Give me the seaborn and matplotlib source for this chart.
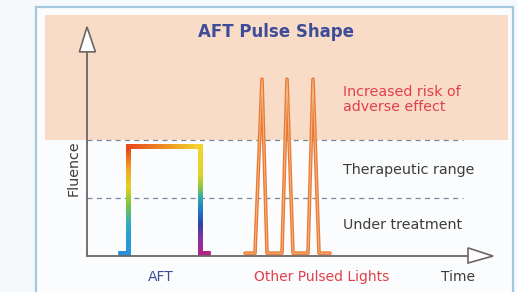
"""
AFT pulse shape schematic: AFT square pulse vs other pulsed lights.
"""

import numpy as np
import pandas as pd
import matplotlib
matplotlib.use("Agg")
import matplotlib.pyplot as plt
import seaborn as sns
from matplotlib.collections import LineCollection
from matplotlib.colors import LinearSegmentedColormap
from matplotlib.patches import Rectangle, Polygon

# ---- Data (time, fluence in schematic units) ----
AFT_T = [1.65, 2.05, 2.05, 5.65, 5.65, 6.05]
AFT_F = [0.05, 0.05, 1.90, 1.90, 0.05, 0.05]

SPIKE_T = [7.9, 8.4, 8.75, 9.0, 9.75, 10.0, 10.3, 11.05, 11.3, 11.6, 12.15]
SPIKE_F = [0.05, 0.05, 3.05, 0.05, 0.05, 3.05, 0.05, 0.05, 3.05, 0.05, 0.05]

THRESHOLDS = [1.0, 2.0]          # under treatment / therapeutic upper limit
ZONE_LABELS = ["Under treatment", "Therapeutic range", "Increased risk of\nadverse effect"]
ZONE_LABEL_F = [0.53, 1.48, 2.70]
BOTTOM_LABELS = ["AFT", "Other Pulsed Lights", "Time"]
BOTTOM_LABEL_T = [3.7, 11.75, 18.55]

# ---- Layout ----
X_LIM = (-4.35, 21.5)
Y_LIM = (-0.62, 4.414)
T_AXIS_END = 20.3
F_AXIS_END = 3.95
DASH_END = 18.8

# ---- Colours ----
PEACH = "#f9dcc8"
BORDER = "#a3c7de"
AXIS_COL = "#6e6464"
DASH_COL = "#7a8898"
ORANGE = "#e97a32"
RED_TXT = "#e2404a"
NAVY = "#3d4d97"
GRAY_TXT = "#3c3c3c"

# rainbow along the AFT stroke (fraction of path length -> colour)
AFT_STOPS = [
    (0.00, "#2a8ed8"), (0.08, "#2a9cd6"), (0.13, "#34aec0"),
    (0.19, "#7cc23e"), (0.25, "#e2d224"), (0.31, "#f2a822"),
    (0.38, "#e6461e"), (0.50, "#f08a22"), (0.62, "#f2d62c"),
    (0.72, "#e0d42e"), (0.76, "#9cc83a"), (0.80, "#2eaab0"),
    (0.85, "#2272c8"), (0.89, "#3044a8"), (0.94, "#8a30a0"),
    (1.00, "#b42282"),
]


def aft_gradient_line(ax):
    """Draw the AFT square pulse with a colour gradient along its path."""
    t = np.array(AFT_T)
    f = np.array(AFT_F)
    # length in screen-ish units (1 t = 20 px, 1 f = 58 px)
    seg_len = np.hypot(np.diff(t) * 20, np.diff(f) * 58)
    pts_t, pts_f = [], []
    for i in range(len(t) - 1):
        n = max(int(seg_len[i]), 2)
        pts_t.extend(np.linspace(t[i], t[i + 1], n, endpoint=False))
        pts_f.extend(np.linspace(f[i], f[i + 1], n, endpoint=False))
    pts_t.append(t[-1])
    pts_f.append(f[-1])
    pts = np.column_stack([pts_t, pts_f])
    segs = np.stack([pts[:-1], pts[1:]], axis=1)
    frac = np.linspace(0, 1, len(segs))
    cmap = LinearSegmentedColormap.from_list("aft", AFT_STOPS)
    lc = LineCollection(segs, colors=cmap(frac), linewidths=3.4,
                        capstyle="projecting", zorder=5)
    ax.add_collection(lc)


def main():
    sns.set_theme(style="white")
    plt.rcParams["font.family"] = ["DejaVu Sans"]

    fig = plt.figure(figsize=(5.17, 2.92), dpi=100)
    fig.patch.set_facecolor("#f6f9fb")
    ax = fig.add_axes([0, 0, 1, 1])
    ax.set_xlim(*X_LIM)
    ax.set_ylim(*Y_LIM)
    ax.set_axis_off()

    # panel border and background zones
    ax.add_patch(Rectangle((-2.55, -0.8), 23.85, 5.1, facecolor="#fbfcfd",
                           edgecolor=BORDER, lw=1.6, zorder=0))
    ax.add_patch(Rectangle((-2.1, THRESHOLDS[1]), 23.15, 2.155,
                           facecolor=PEACH, edgecolor="none", zorder=1))

    # threshold dashed lines
    for thr in THRESHOLDS:
        sns.lineplot(x=[0, DASH_END], y=[thr, thr], ax=ax, color=DASH_COL,
                     lw=0.9, dashes=False, linestyle=(0, (4, 3.5)), zorder=2)

    # other pulsed lights
    spikes = pd.DataFrame({"t": SPIKE_T, "f": SPIKE_F})
    sns.lineplot(data=spikes, x="t", y="f", ax=ax, sort=False, estimator=None,
                 color=ORANGE, lw=2.6, zorder=4)
    sns.lineplot(data=spikes, x="t", y="f", ax=ax, sort=False, estimator=None,
                 color="#f6b88a", lw=0.7, zorder=4)

    # AFT pulse
    aft_gradient_line(ax)

    # axes with open arrowheads
    ax.plot([0, 0], [0, F_AXIS_END - 0.43], color=AXIS_COL, lw=1.3, zorder=6)
    ax.plot([0, T_AXIS_END - 1.25], [0, 0], color=AXIS_COL, lw=1.3, zorder=6)
    ax.add_patch(Polygon([(0, F_AXIS_END), (-0.38, F_AXIS_END - 0.43),
                          (0.42, F_AXIS_END - 0.43)], closed=True,
                         facecolor="white", edgecolor=AXIS_COL, lw=1.2, zorder=7))
    ax.add_patch(Polygon([(T_AXIS_END, 0), (T_AXIS_END - 1.25, 0.14),
                          (T_AXIS_END - 1.25, -0.12)], closed=True,
                         facecolor="white", edgecolor=AXIS_COL, lw=1.2, zorder=7))

    # texts
    ax.text(9.45, 3.86, "AFT Pulse Shape", ha="center", va="center",
            fontsize=12, fontweight="bold", color=NAVY)
    zone_colors = [GRAY_TXT, GRAY_TXT, RED_TXT]
    for label, fpos, col in zip(ZONE_LABELS, ZONE_LABEL_F, zone_colors):
        ax.text(12.8, fpos, label, ha="left", va="center", fontsize=10.3,
                color=col, linespacing=1.15)
    bottom_colors = [NAVY, RED_TXT, GRAY_TXT]
    for label, tpos, col in zip(BOTTOM_LABELS, BOTTOM_LABEL_T, bottom_colors):
        ax.text(tpos, -0.36, label, ha="center", va="center", fontsize=10,
                color=col)
    ax.text(-0.65, 1.51, "Fluence", ha="center", va="center", rotation=90,
            fontsize=10.3, color=GRAY_TXT)

    fig.savefig("out.png", dpi=100)
    plt.close(fig)


if __name__ == "__main__":
    main()
